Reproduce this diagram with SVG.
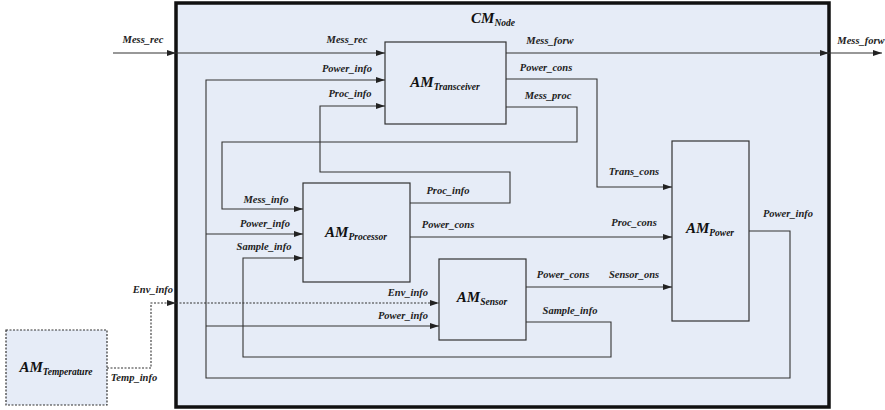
<svg xmlns="http://www.w3.org/2000/svg" width="885" height="410" viewBox="0 0 885 410">
<style>
.box{fill:#e6ecf7;stroke:#333;stroke-width:1.2}
.outer{fill:#e6ecf7;stroke:#111;stroke-width:3.5}
.dbox{fill:#e6ecf7;stroke:#333;stroke-width:1.2;stroke-dasharray:2,1.5}
.ln{fill:none;stroke:#333;stroke-width:1.1}
.dl{fill:none;stroke:#333;stroke-width:1.1;stroke-dasharray:2,1.5}
.lbl{font-family:"Liberation Serif",serif;font-style:italic;font-weight:bold;font-size:10.5px;fill:#222}
.am{font-family:"Liberation Serif",serif;font-style:italic;font-weight:bold;font-size:15px;fill:#111}
.sub{font-size:9.5px}
</style>
<defs>
<marker id="arr" markerUnits="userSpaceOnUse" markerWidth="9" markerHeight="6" refX="9" refY="3" orient="auto">
<path d="M0,0 L9,3 L0,6 z" fill="#222"/>
</marker>
</defs>
<g id="cm-node">
<rect class="outer" x="176" y="3" width="653" height="404"/>
<text class="am" x="493" y="23" text-anchor="middle">CM<tspan class="sub" font-size="9" dy="3">Node</tspan></text>
</g>
<g id="am-temperature">
<rect class="dbox" x="6" y="330" width="101" height="75"/>
<text class="am" x="56" y="372" text-anchor="middle">AM<tspan class="sub" dy="3">Temperature</tspan></text>
</g>
<g id="am-transceiver">
<rect class="box" x="385" y="42" width="121" height="82"/>
<text class="am" x="445" y="87" text-anchor="middle">AM<tspan class="sub" dy="3">Transceiver</tspan></text>
</g>
<g id="am-processor">
<rect class="box" x="303" y="183" width="107" height="99"/>
<text class="am" x="356" y="237" text-anchor="middle">AM<tspan class="sub" dy="3">Processor</tspan></text>
</g>
<g id="am-sensor">
<rect class="box" x="439" y="259" width="87" height="81"/>
<text class="am" x="482" y="302" text-anchor="middle">AM<tspan class="sub" dy="3">Sensor</tspan></text>
</g>
<g id="am-power">
<rect class="box" x="672" y="141" width="77" height="180"/>
<text class="am" x="710" y="233" text-anchor="middle">AM<tspan class="sub" dy="3">Power</tspan></text>
</g>
<g id="connectors">
<path class="ln" d="M113,53 H176" marker-end="url(#arr)"/>
<path class="ln" d="M176,53 H385" marker-end="url(#arr)"/>
<path class="ln" d="M506,53 H829" marker-end="url(#arr)"/>
<path class="ln" d="M829,53 H882" marker-end="url(#arr)"/>
<path class="ln" d="M506,79 H597 V187 H672" marker-end="url(#arr)"/>
<path class="ln" d="M506,107 H577 V142 H222 V209 H303" marker-end="url(#arr)"/>
<path class="ln" d="M410,203 H510 V172 H320 V106 H385" marker-end="url(#arr)"/>
<path class="ln" d="M749,231 H790 V378 H206 V80 H385" marker-end="url(#arr)"/>
<path class="ln" d="M206,234 H303" marker-end="url(#arr)"/>
<path class="ln" d="M206,326 H439" marker-end="url(#arr)"/>
<path class="ln" d="M410,237 H672" marker-end="url(#arr)"/>
<path class="ln" d="M526,322 H611 V357 H243 V258 H303" marker-end="url(#arr)"/>
<path class="ln" d="M526,287 H672" marker-end="url(#arr)"/>
<path class="dl" d="M107,368 H151 V303 H176" marker-end="url(#arr)"/>
<path class="dl" d="M176,303 H439" marker-end="url(#arr)"/>
<text class="lbl" x="143" y="43" text-anchor="middle">Mess_rec</text>
<text class="lbl" x="347" y="43" text-anchor="middle">Mess_rec</text>
<text class="lbl" x="347" y="72" text-anchor="middle">Power_info</text>
<text class="lbl" x="350" y="97" text-anchor="middle">Proc_info</text>
<text class="lbl" x="550" y="44" text-anchor="middle">Mess_forw</text>
<text class="lbl" x="861" y="44" text-anchor="middle">Mess_forw</text>
<text class="lbl" x="546" y="71" text-anchor="middle">Power_cons</text>
<text class="lbl" x="548" y="99" text-anchor="middle">Mess_proc</text>
<text class="lbl" x="634" y="175" text-anchor="middle">Trans_cons</text>
<text class="lbl" x="634" y="226" text-anchor="middle">Proc_cons</text>
<text class="lbl" x="266" y="203" text-anchor="middle">Mess_info</text>
<text class="lbl" x="265" y="227" text-anchor="middle">Power_info</text>
<text class="lbl" x="264" y="250" text-anchor="middle">Sample_info</text>
<text class="lbl" x="448" y="194" text-anchor="middle">Proc_info</text>
<text class="lbl" x="448" y="228" text-anchor="middle">Power_cons</text>
<text class="lbl" x="408" y="296" text-anchor="middle">Env_info</text>
<text class="lbl" x="403" y="319" text-anchor="middle">Power_info</text>
<text class="lbl" x="563" y="278" text-anchor="middle">Power_cons</text>
<text class="lbl" x="634" y="278" text-anchor="middle">Sensor_ons</text>
<text class="lbl" x="570" y="314" text-anchor="middle">Sample_info</text>
<text class="lbl" x="788" y="217" text-anchor="middle">Power_info</text>
<text class="lbl" x="153" y="293" text-anchor="middle">Env_info</text>
<text class="lbl" x="134" y="381" text-anchor="middle">Temp_info</text>
</g>
</svg>
